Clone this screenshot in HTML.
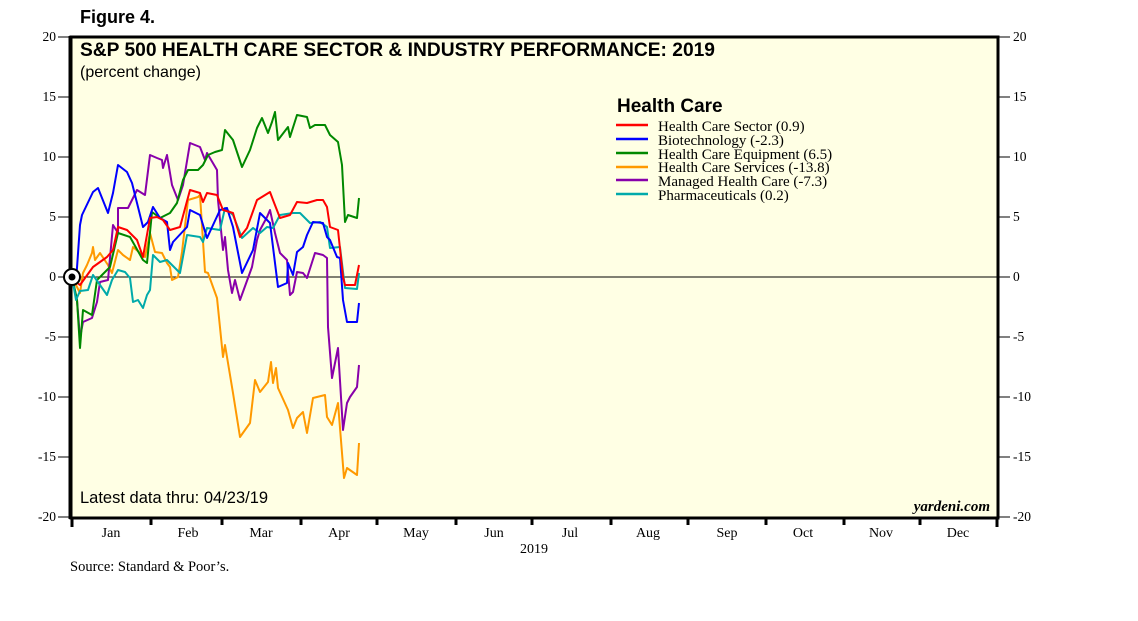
<!DOCTYPE html>
<html><head><meta charset="utf-8"><style>
html,body{margin:0;padding:0;background:#fff;}
svg{display:block;}
.s{font-family:"Liberation Serif",serif;font-size:13.5px;fill:#000;}
.a{font-family:"Liberation Sans",sans-serif;fill:#000;}
</style></head><body>
<svg width="1138" height="621" viewBox="0 0 1138 621">
<rect x="71" y="37" width="927" height="480" fill="#ffffe4"/>
<text class="a" x="80" y="23" font-size="18" font-weight="bold">Figure 4.</text>
<g stroke="#000" stroke-width="1">
<line x1="58" y1="37" x2="71" y2="37"/><line x1="58" y1="97" x2="71" y2="97"/><line x1="58" y1="157" x2="71" y2="157"/><line x1="58" y1="217" x2="71" y2="217"/><line x1="58" y1="277" x2="71" y2="277"/><line x1="58" y1="337" x2="71" y2="337"/><line x1="58" y1="397" x2="71" y2="397"/><line x1="58" y1="457" x2="71" y2="457"/><line x1="58" y1="517" x2="71" y2="517"/>
<line x1="998" y1="37" x2="1010" y2="37"/><line x1="998" y1="97" x2="1010" y2="97"/><line x1="998" y1="157" x2="1010" y2="157"/><line x1="998" y1="217" x2="1010" y2="217"/><line x1="998" y1="277" x2="1010" y2="277"/><line x1="998" y1="337" x2="1010" y2="337"/><line x1="998" y1="397" x2="1010" y2="397"/><line x1="998" y1="457" x2="1010" y2="457"/><line x1="998" y1="517" x2="1010" y2="517"/>
<line x1="71" y1="277" x2="998" y2="277"/>
</g>
<g class="s" text-anchor="end">
<text x="56" y="41">20</text><text x="56" y="101">15</text><text x="56" y="161">10</text><text x="56" y="221">5</text><text x="56" y="281">0</text><text x="56" y="341">-5</text><text x="56" y="401">-10</text><text x="56" y="461">-15</text><text x="56" y="521">-20</text>
</g>
<g class="s">
<text x="1013" y="41">20</text><text x="1013" y="101">15</text><text x="1013" y="161">10</text><text x="1013" y="221">5</text><text x="1013" y="281">0</text><text x="1013" y="341">-5</text><text x="1013" y="401">-10</text><text x="1013" y="461">-15</text><text x="1013" y="521">-20</text>
</g>
<g stroke="#000" stroke-width="3">
<line x1="72" y1="519" x2="72" y2="527"/><line x1="151" y1="519" x2="151" y2="525"/><line x1="222" y1="519" x2="222" y2="525"/><line x1="301" y1="519" x2="301" y2="525"/><line x1="377" y1="519" x2="377" y2="525"/><line x1="456" y1="519" x2="456" y2="525"/><line x1="532" y1="519" x2="532" y2="525"/><line x1="611" y1="519" x2="611" y2="525"/><line x1="688" y1="519" x2="688" y2="525"/><line x1="766" y1="519" x2="766" y2="525"/><line x1="844" y1="519" x2="844" y2="525"/><line x1="920" y1="519" x2="920" y2="525"/><line x1="997" y1="519" x2="997" y2="527"/>
</g>
<g class="s" text-anchor="middle" style="font-size:14px">
<text x="111" y="537">Jan</text><text x="188" y="537">Feb</text><text x="261" y="537">Mar</text><text x="339" y="537">Apr</text><text x="416" y="537">May</text><text x="494" y="537">Jun</text><text x="570" y="537">Jul</text><text x="648" y="537">Aug</text><text x="727" y="537">Sep</text><text x="803" y="537">Oct</text><text x="881" y="537">Nov</text><text x="958" y="537">Dec</text>
<text x="534" y="553">2019</text>
</g>
<text class="s" x="70" y="571" style="font-size:14.5px">Source: Standard &amp; Poor’s.</text>
<g fill="none" stroke-width="2" stroke-linejoin="round">
<polyline stroke="#ff9900" points="72,277 77,287 80,293 83,273 87,265 92,253 93,247 95,260 100,253 108,265 112,273 118,250 123,255 130,260 133,247 140,253 145,257 150,233 155,252 162,253 167,263 170,267 172,280 178,277 182,252 188,200 198,197 200,195 205,272 208,273 213,287 217,298 223,357 225,345 233,393 240,437 250,423 255,380 260,392 268,382 271,362 273,383 276,368 278,388 288,410 293,428 297,418 303,412 307,433 313,398 325,395 327,417 332,425 338,403 344,478 347,468 357,475 359,443"/>
<polyline stroke="#8800aa" points="72,277 77,300 80,338 83,322 92,318 97,302 100,282 108,280 113,225 118,233 118,208 128,208 132,200 137,190 145,195 150,155 157,158 162,160 163,168 167,155 172,185 178,200 183,185 190,143 200,147 205,160 207,153 217,170 218,200 223,250 225,237 228,270 232,293 235,280 240,300 252,267 257,240 260,230 267,217 270,210 275,233 280,253 287,260 290,295 293,292 297,272 303,273 307,278 315,253 323,255 327,258 328,327 332,378 338,348 343,430 347,403 350,397 357,387 359,365"/>
<polyline stroke="#008800" points="72,277 77,300 80,348 83,310 92,315 97,280 110,267 118,233 130,237 143,260 147,263 152,212 160,218 170,213 177,203 183,180 188,170 198,170 203,165 208,155 215,152 222,150 225,130 233,140 242,167 250,150 257,128 262,118 268,133 272,122 275,112 278,140 288,127 290,137 297,115 307,117 310,128 315,125 325,125 330,135 338,142 342,165 345,222 348,215 357,218 359,198"/>
<polyline stroke="#00aaaa" points="72,277 76,300 80,291 88,290 93,275 100,285 107,295 112,280 118,270 125,272 130,278 133,302 138,300 143,308 147,295 150,290 153,255 160,262 167,260 180,273 187,235 200,237 203,242 207,228 220,230 225,208 233,215 242,238 253,228 260,233 267,227 273,228 280,215 293,213 300,213 310,223 320,222 327,227 330,248 340,247 345,288 357,289 359,273"/>
<polyline stroke="#0000ff" points="72,277 76,282 80,225 82,215 93,192 98,188 108,213 113,193 118,165 127,172 132,183 143,227 148,222 153,207 160,218 167,222 170,250 173,242 187,227 190,210 200,215 207,238 220,210 227,208 233,227 242,273 253,250 260,213 270,223 278,287 287,283 288,263 293,275 297,252 303,247 307,235 313,222 323,223 327,237 330,240 337,257 340,258 343,300 347,322 357,322 359,303"/>
<polyline stroke="#ff0000" points="72,277 76,282 80,285 93,267 107,257 113,250 118,227 127,230 137,240 143,257 150,218 157,217 163,220 170,230 180,227 190,190 200,193 203,202 207,193 217,195 223,210 233,213 240,237 247,228 257,200 270,192 273,200 280,218 290,215 297,202 307,203 317,200 323,200 327,207 330,227 338,230 343,277 345,285 355,285 359,265"/>
</g>
<rect x="71" y="37" width="927" height="481" fill="none" stroke="#000" stroke-width="3"/>
<line x1="70.5" y1="36" x2="70.5" y2="519" stroke="#000" stroke-width="4"/>
<circle cx="72" cy="277" r="8" fill="#fff" stroke="#000" stroke-width="2"/>
<circle cx="72" cy="277" r="3.5" fill="#000"/>
<text class="a" x="80" y="56" font-size="19" font-weight="bold" textLength="635" lengthAdjust="spacingAndGlyphs">S&amp;P 500 HEALTH CARE SECTOR &amp; INDUSTRY PERFORMANCE: 2019</text>
<text class="a" x="80" y="77" font-size="16">(percent change)</text>
<text class="a" x="617" y="112" font-size="19" font-weight="bold">Health Care</text>
<g stroke-width="2.5">
<line x1="616" y1="125" x2="648" y2="125" stroke="#ff0000"/>
<line x1="616" y1="139" x2="648" y2="139" stroke="#0000ff"/>
<line x1="616" y1="153" x2="648" y2="153" stroke="#008800"/>
<line x1="616" y1="167" x2="648" y2="167" stroke="#ff9900"/>
<line x1="616" y1="180" x2="648" y2="180" stroke="#8800aa"/>
<line x1="616" y1="194" x2="648" y2="194" stroke="#00aaaa"/>
</g>
<g class="s" style="font-size:15px">
<text x="658" y="131">Health Care Sector (0.9)</text>
<text x="658" y="145">Biotechnology (-2.3)</text>
<text x="658" y="159">Health Care Equipment (6.5)</text>
<text x="658" y="172">Health Care Services (-13.8)</text>
<text x="658" y="186">Managed Health Care (-7.3)</text>
<text x="658" y="200">Pharmaceuticals (0.2)</text>
</g>
<text class="a" x="80" y="503" font-size="16.5">Latest data thru: 04/23/19</text>
<text x="990" y="511" text-anchor="end" font-family="Liberation Serif,serif" font-size="15" font-style="italic" font-weight="bold">yardeni.com</text>
</svg>
</body></html>
